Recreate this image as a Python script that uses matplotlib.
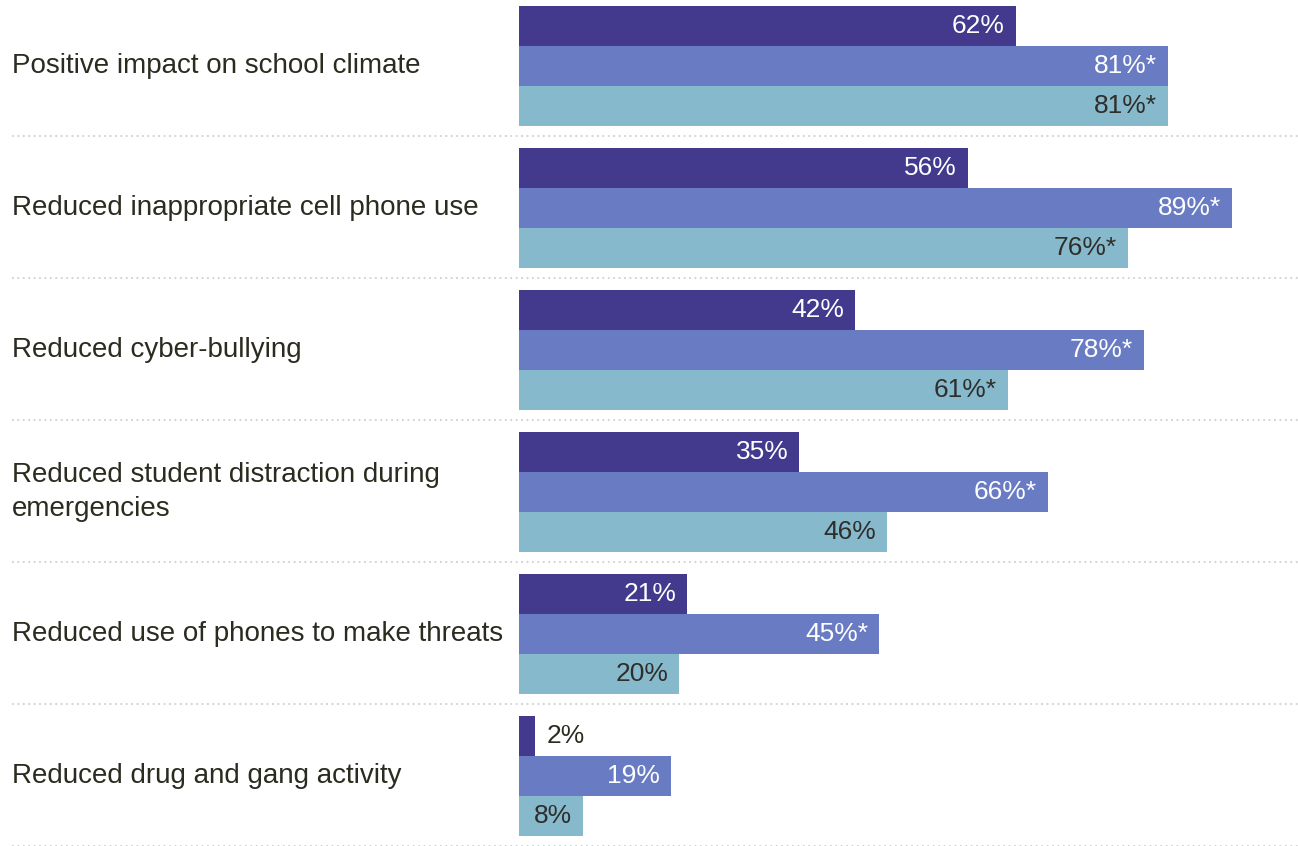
import matplotlib
matplotlib.use("Agg")
import matplotlib.pyplot as plt
import matplotlib.transforms as mtransforms
import numpy as np

# categories, top to bottom
categories = [
    "Positive impact on school climate",
    "Reduced inappropriate cell phone use",
    "Reduced cyber-bullying",
    "Reduced student distraction during\nemergencies",
    "Reduced use of phones to make threats",
    "Reduced drug and gang activity",
]

# three series per category (percent)
series_a = [62, 56, 42, 35, 21, 2]
series_b = [81, 89, 78, 66, 45, 19]
series_c = [81, 76, 61, 46, 20, 8]

# value labels as shown (asterisk = significant)
labels_a = ["62%", "56%", "42%", "35%", "21%", "2%"]
labels_b = ["81%*", "89%*", "78%*", "66%*", "45%*", "19%"]
labels_c = ["81%*", "76%*", "61%*", "46%", "20%", "8%"]

colors = ["#433a8e", "#687bc3", "#87b9cd"]
text_colors = ["white", "white", "#2e2e2a"]
label_color = "#2b2b20"

plt.rcParams['font.family'] = ['Liberation Sans', 'DejaVu Sans']

W, H = 1298, 846
fig = plt.figure(figsize=(W / 100, H / 100), dpi=100)
ax = fig.add_axes([519 / W, 0, 1 - 519 / W, 1])

pitch = 142.0
bh = 40 / pitch
y = np.arange(len(categories))
offsets = [-bh, 0, bh]

for vals, labs, off, col, tcol in zip([series_a, series_b, series_c],
                                      [labels_a, labels_b, labels_c],
                                      offsets, colors, text_colors):
    bars = ax.barh(y + off, vals, height=bh, color=col, linewidth=0)
    for b, v, lab in zip(bars, vals, labs):
        yc = b.get_y() + b.get_height() / 2
        if v < 5:
            ax.annotate(lab, (v, yc), xytext=(8, 0), textcoords="offset points",
                        ha="left", va="center", fontsize=19, color=label_color)
        else:
            ax.annotate(lab, (v, yc), xytext=(-8, 0), textcoords="offset points",
                        ha="right", va="center", fontsize=19, color=tcol)

ax.set_xlim(0, (W - 519) / 8.01)
ax.set_ylim(len(categories) - 1 + 70 / pitch, -66 / pitch)
ax.axis("off")

trans = mtransforms.blended_transform_factory(fig.transFigure, ax.transData)
for i, cat in enumerate(categories):
    ax.text(12 / W, i, cat, transform=trans, ha="left", va="center",
            fontsize=20, color=label_color, linespacing=1.38)
    sep = i + 70 / pitch
    ax.plot([12 / W, 1], [sep, sep], transform=trans, color="#cfcfcf",
            linewidth=1.3, linestyle=(0, (1, 2)), clip_on=False)

fig.savefig("out.png", dpi=100)
